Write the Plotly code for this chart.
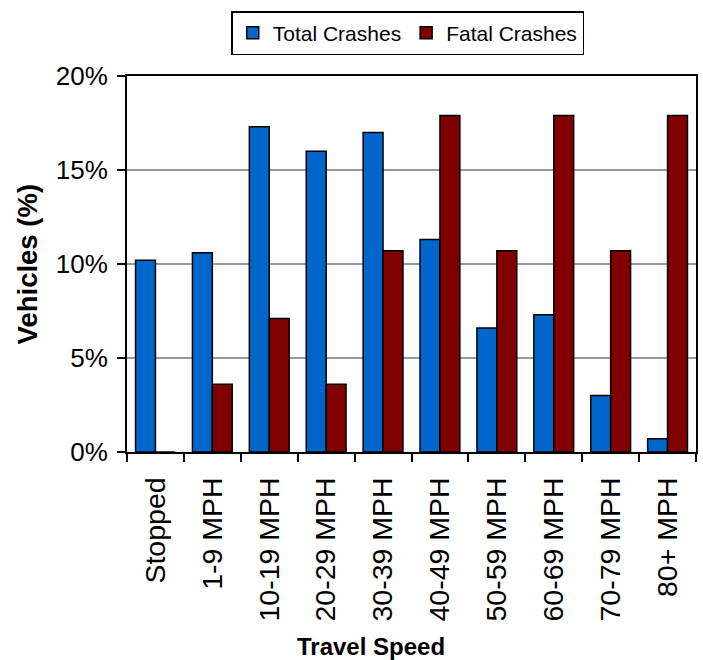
import plotly.graph_objects as go

categories = ["Stopped", "1-9 MPH", "10-19 MPH", "20-29 MPH", "30-39 MPH",
              "40-49 MPH", "50-59 MPH", "60-69 MPH", "70-79 MPH", "80+ MPH"]
total_crashes = [10.2, 10.6, 17.3, 16.0, 17.0, 11.3, 6.6, 7.3, 3.0, 0.7]
fatal_crashes = [0.0, 3.6, 7.1, 3.6, 10.7, 17.9, 10.7, 17.9, 10.7, 17.9]
y_ticks = [0, 5, 10, 15, 20]
y_tick_labels = ["0%", "5%", "10%", "15%", "20%"]

FONT = "Liberation Sans, Arial, sans-serif"

fig = go.Figure()
fig.add_trace(go.Bar(name="Total Crashes", x=categories, y=total_crashes,
                     marker=dict(color="#0066CC", line=dict(color="black", width=1.5))))
fig.add_trace(go.Bar(name="Fatal Crashes", x=categories, y=fatal_crashes,
                     marker=dict(color="#800000", line=dict(color="black", width=1.5))))

fig.update_layout(
    width=703, height=660, autosize=False,
    margin=dict(l=127, r=7, t=76, b=208, autoexpand=False),
    paper_bgcolor="white", plot_bgcolor="white",
    barmode="group", bargap=0.3, bargroupgap=0,
    font=dict(family=FONT, color="black"),
    showlegend=True,
    legend=dict(orientation="h", xref="container", yref="container",
                x=0.58, xanchor="center", y=0.983, yanchor="top",
                bordercolor="black", borderwidth=1.5, bgcolor="white",
                font=dict(size=21, family=FONT), traceorder="normal"),
    xaxis=dict(showline=True, linecolor="black", linewidth=2, mirror=True,
               ticks="outside", tickson="boundaries", ticklen=8, tickwidth=1.5,
               tickcolor="black", tickangle=-90, tickfont=dict(size=28.5, family=FONT),
               ticklabelstandoff=12, showgrid=False, automargin=False),
    yaxis=dict(range=[0, 20], tickmode="array", tickvals=y_ticks, ticktext=y_tick_labels,
               showline=True, linecolor="black", linewidth=2, mirror=True,
               ticks="outside", ticklen=8, tickwidth=1.5, tickcolor="black",
               tickfont=dict(size=26, family=FONT), ticklabelstandoff=4,
               showgrid=True, gridcolor="#999999", gridwidth=1.5, zeroline=False,
               automargin=False),
    annotations=[
        dict(text="<b>Travel Speed</b>", xref="paper", yref="paper", x=0.429, y=-0.516,
             xanchor="center", yanchor="middle", showarrow=False,
             font=dict(size=24, family=FONT)),
        dict(text="<b>Vehicles (%)</b>", xref="paper", yref="paper", x=-0.175, y=0.5,
             xanchor="center", yanchor="middle", showarrow=False, textangle=-90,
             font=dict(size=27.5, family=FONT)),
    ],
)

fig.write_html("out.html", config={"displayModeBar": False},
               post_script="document.body.style.margin='0';document.body.style.overflow='hidden';")
